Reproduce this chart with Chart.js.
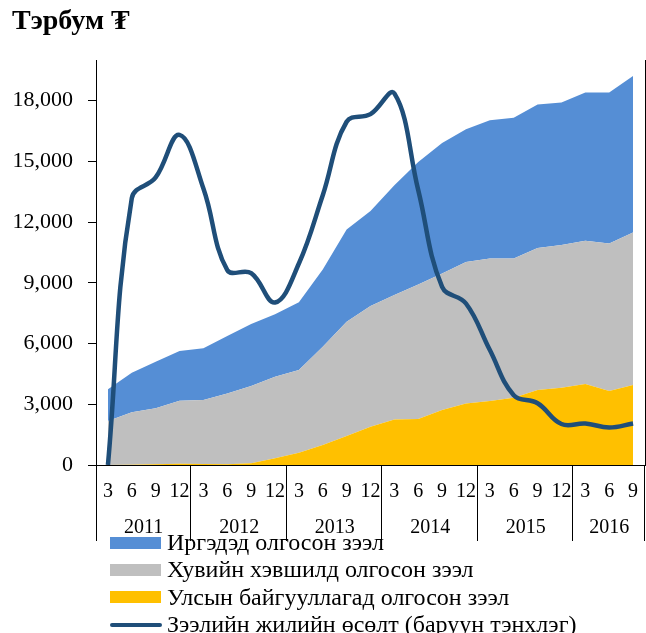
<!DOCTYPE html>
<html>
<head>
<meta charset="utf-8">
<script src="https://cdn.jsdelivr.net/npm/chart.js@4"></script>
<style>
  body { margin: 0; background: #fff; }
  #wrap { position: relative; width: 646px; height: 633px; }
  #legend { position: absolute; left: 110px; top: 529px; font: 24px "Liberation Serif", "Times New Roman", serif; color: #000; }
  .row { display: flex; align-items: center; height: 27.3px; white-space: nowrap; }
  .sw { display: inline-block; width: 51px; height: 12px; margin-right: 6px; }
  .ln { display: inline-block; width: 52px; height: 4px; border-radius: 2px; margin-right: 5px; }
</style>
</head>
<body>
<div id="wrap">
  <canvas id="chart" width="646" height="633"></canvas>
  <div id="legend"></div>
</div>
<script>
// quarter labels, 2011 Q1 .. 2016 Q3
const quarters = ['3', '6', '9', '12', '3', '6', '9', '12', '3', '6', '9', '12',
  '3', '6', '9', '12', '3', '6', '9', '12', '3', '6', '9'];
const years = ['2011', '2012', '2013', '2014', '2015', '2016'];
const quartersPerYear = [4, 4, 4, 4, 4, 3];
const leftTicks = [0, 3000, 6000, 9000, 12000, 15000, 18000];

// billion tugrik, stacked
const stateLoans = [0, 10, 40, 60, 50, 40, 90, 330, 610, 990, 1430, 1890,
  2250, 2270, 2710, 3040, 3160, 3320, 3700, 3820, 4000, 3650, 3950];
const privateLoans = [2170, 2590, 2760, 3115, 3160, 3495, 3810, 4030, 4080, 4850, 5640, 5960,
  6140, 6640, 6750, 6990, 7040, 6880, 7020, 7040, 7070, 7290, 7530];
const householdLoans = [1565, 1955, 2300, 2450, 2550, 2830, 3060, 3090, 3350, 3815, 4560, 4690,
  5425, 6055, 6440, 6550, 6820, 6950, 7080, 7040, 7320, 7450, 7730];
// annual growth, right axis
const loanGrowth = [0, 52.7, 56.8, 65.2, 54.6, 38.5, 37.9, 32.1, 39.8, 53.3, 67.8, 69.3,
  73.4, 54.3, 35.2, 31.9, 22.7, 13.8, 12.2, 8.1, 8.2, 7.4, 8.2];

const serif = '"Liberation Serif", "Times New Roman", serif';

// year labels and separators under the quarter ticks
const yearAxis = {
  id: 'yearAxis',
  afterDraw(chart) {
    const ctx = chart.ctx;
    const top = chart.chartArea.bottom;
    const step = (chart.chartArea.right - chart.chartArea.left) / quarters.length;
    let start = chart.chartArea.left;
    ctx.save();
    ctx.strokeStyle = '#000';
    ctx.lineWidth = 1;
    ctx.fillStyle = '#000';
    ctx.font = '20px ' + serif;
    ctx.textAlign = 'center';
    ctx.textBaseline = 'middle';
    const drawSep = (px) => {
      ctx.beginPath();
      ctx.moveTo(Math.round(px) - 0.5, top);
      ctx.lineTo(Math.round(px) - 0.5, top + 76);
      ctx.stroke();
    };
    drawSep(start + 1);
    years.forEach((y, i) => {
      const end = start + quartersPerYear[i] * step;
      drawSep(end);
      ctx.fillText(y, (start + end) / 2, top + 63);
      start = end;
    });
    ctx.restore();
  }
};

const chart = new Chart(document.getElementById('chart'), {
  type: 'line',
  data: {
    labels: quarters,
    datasets: [
      {
        label: 'Улсын байгууллагад олгосон зээл',
        data: stateLoans,
        backgroundColor: '#FFC000',
        fill: 'origin',
        borderWidth: 0,
        pointRadius: 0,
        yAxisID: 'y',
        order: 1,
      },
      {
        label: 'Хувийн хэвшилд олгосон зээл',
        data: privateLoans,
        backgroundColor: '#BFBFBF',
        fill: '-1',
        borderWidth: 0,
        pointRadius: 0,
        yAxisID: 'y',
        order: 1,
      },
      {
        label: 'Иргэдэд олгосон зээл',
        data: householdLoans,
        backgroundColor: '#558ED5',
        fill: '-1',
        borderWidth: 0,
        pointRadius: 0,
        yAxisID: 'y',
        order: 1,
      },
      {
        label: 'Зээлийн жилийн өсөлт (баруун тэнхлэг)',
        data: loanGrowth,
        borderColor: '#1F4E79',
        borderWidth: 4.5,
        fill: false,
        tension: 0.4,
        pointRadius: 0,
        yAxisID: 'y1',
        order: 0,
      },
    ],
  },
  options: {
    responsive: false,
    animation: false,
    devicePixelRatio: 1,
    layout: { padding: { left: 12, right: 0, top: 0, bottom: 0 } },
    plugins: {
      legend: { display: false },
      tooltip: { enabled: false },
      title: {
        display: true,
        text: 'Тэрбум ₮',
        align: 'start',
        color: '#000',
        font: { family: serif, size: 28, weight: 'bold', lineHeight: 1.2 },
        padding: { top: 5, bottom: 21.4 },
      },
    },
    scales: {
      x: {
        offset: true,
        grid: { display: false, offset: true },
        border: { display: true, color: '#000', width: 1 },
        ticks: { color: '#000', font: { family: serif, size: 20 }, padding: 7, autoSkip: false, maxRotation: 0 },
        afterFit(s) { s.height = 168; s.paddingLeft = 0; s.paddingRight = 0; },
      },
      y: {
        stacked: true,
        position: 'left',
        min: 0,
        max: 20000,
        grid: { drawOnChartArea: false, tickLength: 8, color: '#000' },
        border: { display: true, color: '#000', width: 1 },
        ticks: { color: '#000', font: { family: serif, size: 22 }, padding: 15 },
        afterBuildTicks(s) { s.ticks = leftTicks.map(v => ({ value: v })); },
        afterFit(s) { s.width = 84; s.paddingTop = 0; s.paddingBottom = 0; },
      },
      y1: {
        position: 'right',
        min: 0,
        max: 80,
        grid: { drawOnChartArea: false, tickLength: 5, color: '#000' },
        border: { display: true, color: '#000', width: 1 },
        ticks: { stepSize: 10, display: false },
        afterFit(s) { s.width = 1; s.paddingTop = 0; s.paddingBottom = 0; },
      },
    },
  },
  plugins: [yearAxis],
});

// legend, one item per row, same order as the reference
const legendEl = document.getElementById('legend');
[2, 1, 0, 3].forEach(i => {
  const ds = chart.data.datasets[i];
  const row = document.createElement('div');
  row.className = 'row';
  const sw = document.createElement('span');
  if (ds.yAxisID === 'y1') {
    sw.className = 'ln';
    sw.style.background = ds.borderColor;
  } else {
    sw.className = 'sw';
    sw.style.background = ds.backgroundColor;
  }
  row.appendChild(sw);
  row.appendChild(document.createTextNode(ds.label));
  legendEl.appendChild(row);
});
</script>
</body>
</html>
